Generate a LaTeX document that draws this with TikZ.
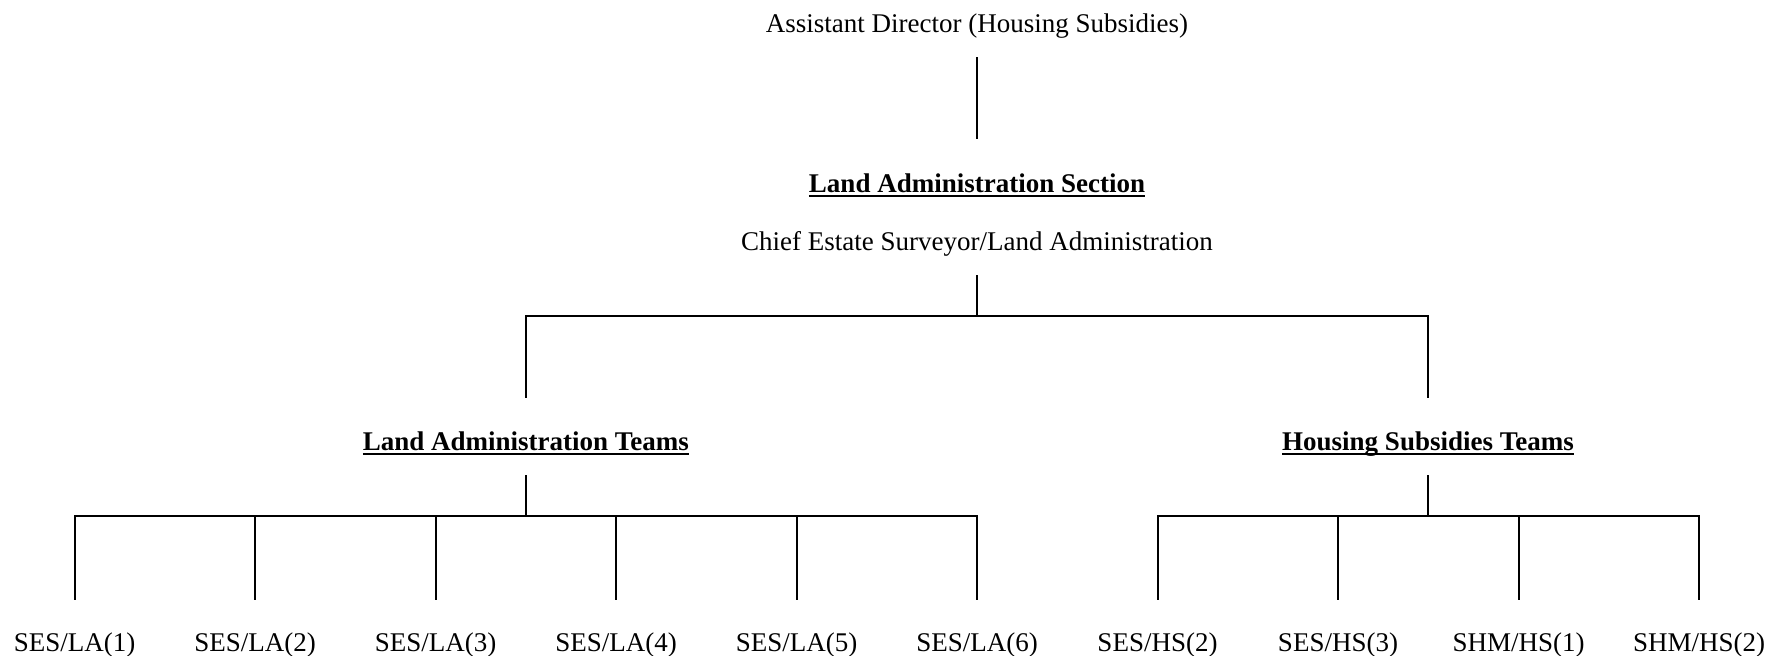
\documentclass[tikz,border=0pt]{standalone}
\usepackage{fontspec}
\setmainfont{Liberation Serif}
\newcommand{\hdr}[1]{\setbox0\hbox{\bfseries #1}\leavevmode\rlap{\rule[-2.6pt]{\wd0}{1.2pt}}\box0}

\begin{document}
\begin{tikzpicture}[x=0.5pt,y=-0.5pt,
        lbl/.style={anchor=base,inner sep=0pt,font=\fontsize{13.5}{16}\selectfont},
        link/.style={line width=1pt},
        bar/.style={line width=1pt,line cap=rect}]
        \useasboundingbox (0,0) rectangle (1769,655);
        % titles
        \node[lbl] (ad) at (977,32) {Assistant Director (Housing Subsidies)};
        \node[lbl] (sec) at (977,192) {\hdr{Land Administration Section}};
        \node[lbl] (ces) at (977,250) {Chief Estate Surveyor/Land Administration};
        \node[lbl] (lat) at (525.8,450) {\hdr{Land Administration Teams}};
        \node[lbl] (hst) at (1428,450) {\hdr{Housing Subsidies Teams}};
        \foreach \i in {1,...,6}
            {
                \node[lbl] (la\i) at ({74.7+180.46*(\i-1)},651.7) {SES/LA(\i)};
            }
        \foreach \i/\t in {1/{SES/HS(2)},2/{SES/HS(3)},3/{SHM/HS(1)},4/{SHM/HS(2)}}
            {
                \node[lbl] (hs\i) at ({1157.5+180.5*(\i-1)},651.7) {\t};
            }
        % lines
        \draw[link,shorten <=12.5pt,shorten >=26.5pt] (ad.base) -- (sec.base);
        \coordinate (top) at (977,316);
        \draw[link,shorten <=12.5pt] (ces.base) -- (top);
        \draw[bar] (lat.base |- top) -- (hst.base |- top);
        \draw[link,shorten >=26pt] (lat.base |- top) -- (lat.base);
        \draw[link,shorten >=26pt] (hst.base |- top) -- (hst.base);
        \coordinate (labar) at (525.8,516);
        \coordinate (hsbar) at (1428,516);
        \draw[link,shorten <=12.5pt] (lat.base) -- (labar);
        \draw[link,shorten <=12.5pt] (hst.base) -- (hsbar);
        \draw[bar] (la1.base |- labar) -- (la6.base |- labar);
        \draw[bar] (hs1.base |- hsbar) -- (hs4.base |- hsbar);
        \foreach \i in {1,...,6}
            \draw[link,shorten >=26pt] (la\i.base |- labar) -- (la\i.base);
        \foreach \i in {1,...,4}
            \draw[link,shorten >=26pt] (hs\i.base |- hsbar) -- (hs\i.base);
    \end{tikzpicture}
\end{document}
